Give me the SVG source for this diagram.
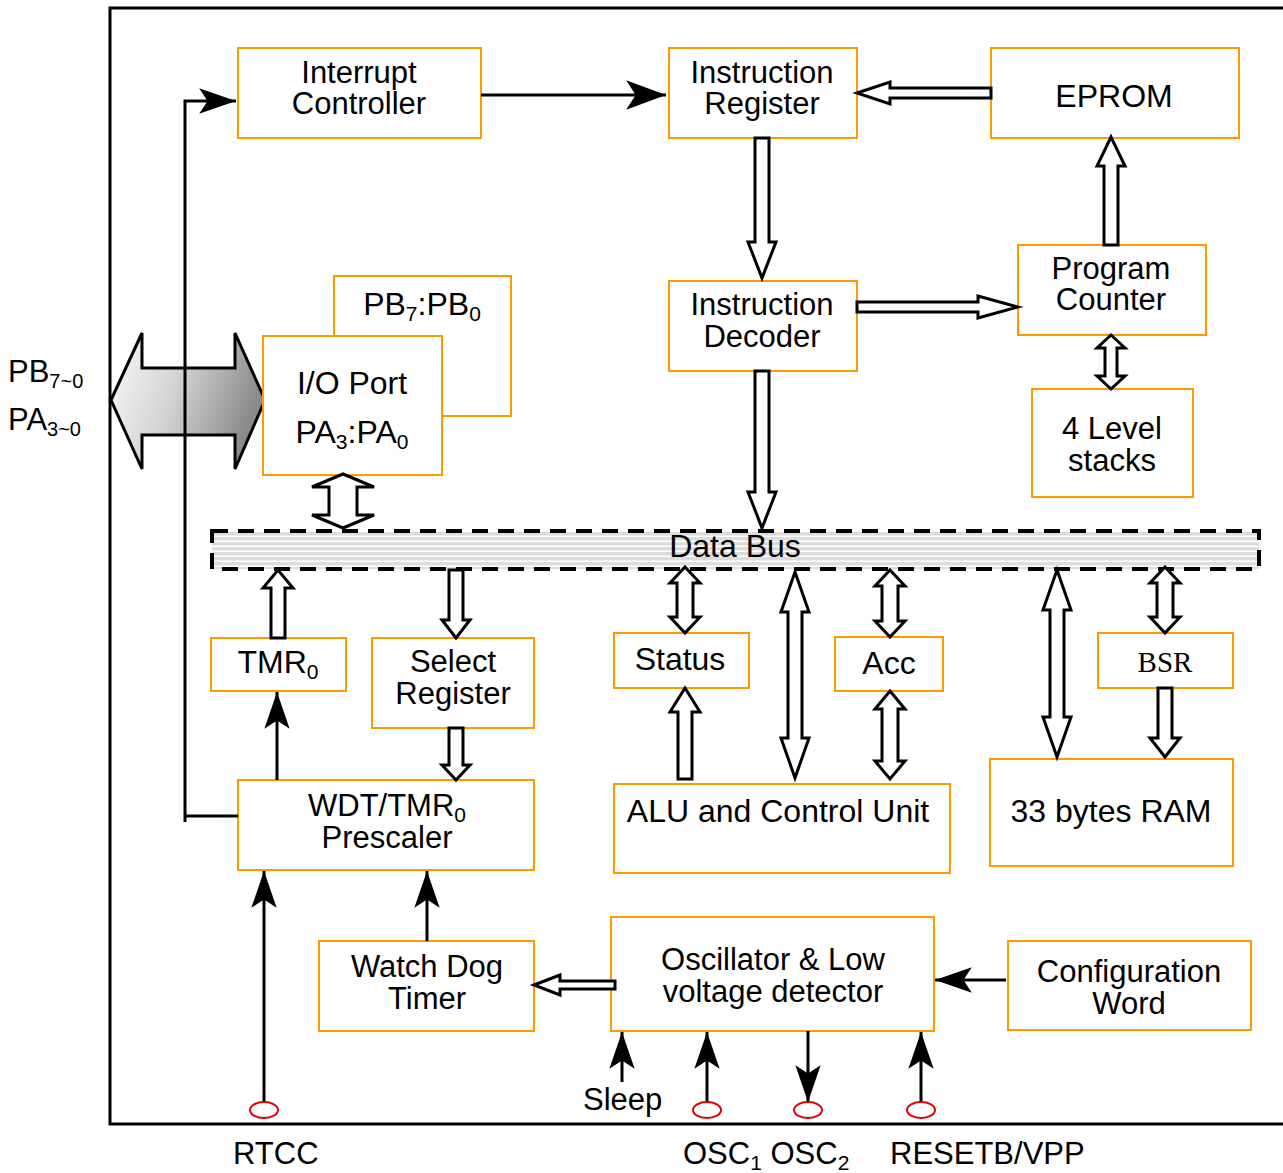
<svg xmlns="http://www.w3.org/2000/svg" width="1283" height="1173" viewBox="0 0 1283 1173">
<style>
.box{fill:#fff;stroke:#ff9900;stroke-width:2}
.t{font-family:"Liberation Sans",Arial,sans-serif;font-size:32px;fill:#000;text-anchor:middle}
.t2{font-family:"Liberation Sans",Arial,sans-serif;font-size:31px;fill:#000;text-anchor:middle}
.tl{font-family:"Liberation Sans",Arial,sans-serif;font-size:31px;fill:#000}
.h{fill:#fff;stroke:#000;stroke-width:3;stroke-linejoin:miter}
.ln{fill:none;stroke:#000;stroke-width:3}
.pin{fill:#fff;stroke:#e00000;stroke-width:2}
</style>
<defs>
<marker id="ah" markerUnits="userSpaceOnUse" markerWidth="40" markerHeight="30" viewBox="-36 -13 38 26" refX="0" refY="0" orient="auto">
<path d="M0,0 L-35,-12 L-27,0 L-35,12 Z" fill="#000"/>
</marker>
<marker id="ahl" markerUnits="userSpaceOnUse" markerWidth="44" markerHeight="34" viewBox="-40 -15 42 30" refX="0" refY="0" orient="auto">
<path d="M0,0 L-38,-14 L-29,0 L-38,14 Z" fill="#000"/>
</marker>
<linearGradient id="bg" x1="0" y1="0" x2="1" y2="0.3">
<stop offset="0" stop-color="#fafafa"/>
<stop offset="0.5" stop-color="#d2d2d2"/>
<stop offset="1" stop-color="#8a8a8a"/>
</linearGradient>
<pattern id="stripes" patternUnits="userSpaceOnUse" x="0" y="532" width="10" height="5">
<rect x="0" y="0" width="10" height="5" fill="#dcdcdc"/>
<rect x="0" y="3.5" width="10" height="1.5" fill="#fff"/>
</pattern>
</defs>

<polygon points="111,400 142,333 142,368 235,368 235,333 265,400 235,469 235,435 142,435 142,469" fill="url(#bg)" stroke="#000" stroke-width="3"/>

<path class="ln" d="M1290,8 H110 V1124 H1290" stroke-width="3"/>

<g id="interrupt-controller"><rect class="box" x="238" y="48" width="243" height="90"/><text class="t2" x="359" y="83">Interrupt</text><text class="t2" x="359" y="114">Controller</text></g>
<g id="instruction-register"><rect class="box" x="669" y="48" width="188" height="90"/><text class="t2" x="762" y="83">Instruction</text><text class="t2" x="762" y="114">Register</text></g>
<g id="eprom"><rect class="box" x="991" y="48" width="248" height="90"/><text class="t" x="1114" y="107">EPROM</text></g>
<g id="program-counter"><rect class="box" x="1018" y="245" width="188" height="90"/><text class="t2" x="1111" y="279">Program</text><text class="t2" x="1111" y="310">Counter</text></g>
<g id="stacks"><rect class="box" x="1032" y="389" width="161" height="108"/><text class="t2" x="1112" y="439">4 Level</text><text class="t2" x="1112" y="471">stacks</text></g>
<g id="instruction-decoder"><rect class="box" x="669" y="281" width="188" height="90"/><text class="t2" x="762" y="315">Instruction</text><text class="t2" x="762" y="347">Decoder</text></g>
<g id="port-b"><rect class="box" x="334" y="276" width="177" height="140"/><text class="t" x="422" y="315">PB<tspan font-size="21" dy="6">7</tspan><tspan dy="-6">:PB</tspan><tspan font-size="21" dy="6">0</tspan></text></g>
<g id="io-port"><rect class="box" x="263" y="336" width="179" height="139"/><text class="t" x="352" y="394">I/O Port</text><text class="t" x="352" y="443">PA<tspan font-size="21" dy="6">3</tspan><tspan dy="-6">:PA</tspan><tspan font-size="21" dy="6">0</tspan></text></g>
<g id="data-bus"><rect x="212" y="531" width="1047" height="38" fill="url(#stripes)" stroke="#000" stroke-width="4" stroke-dasharray="16 10"/><text class="t" x="735" y="557">Data Bus</text></g>
<g id="tmr0"><rect class="box" x="211" y="638" width="135" height="53"/><text class="t" x="278" y="673">TMR<tspan font-size="21" dy="6">0</tspan></text></g>
<g id="select-register"><rect class="box" x="372" y="638" width="162" height="90"/><text class="t2" x="453" y="672">Select</text><text class="t2" x="453" y="704">Register</text></g>
<g id="status"><rect class="box" x="614" y="633" width="135" height="55"/><text class="t" x="680" y="670">Status</text></g>
<g id="acc"><rect class="box" x="835" y="637" width="108" height="54"/><text class="t" x="889" y="674">Acc</text></g>
<g id="bsr"><rect class="box" x="1098" y="633" width="135" height="55"/><text x="1165" y="672" font-family="'Liberation Serif','Times New Roman',serif" font-size="29" text-anchor="middle">BSR</text></g>
<g id="alu"><rect class="box" x="614" y="784" width="336" height="89"/><text class="t" x="778" y="822">ALU and Control Unit</text></g>
<g id="ram"><rect class="box" x="990" y="759" width="243" height="107"/><text class="t" x="1111" y="822">33 bytes RAM</text></g>
<g id="prescaler"><rect class="box" x="238" y="780" width="296" height="90"/><text class="t2" x="387" y="816">WDT/TMR<tspan font-size="21" dy="6">0</tspan></text><text class="t2" x="387" y="848">Prescaler</text></g>
<g id="watchdog"><rect class="box" x="319" y="941" width="215" height="90"/><text class="t2" x="427" y="977">Watch Dog</text><text class="t2" x="427" y="1009">Timer</text></g>
<g id="oscillator"><rect class="box" x="611" y="917" width="323" height="114"/><text class="t2" x="773" y="970">Oscillator &amp; Low</text><text class="t2" x="773" y="1002">voltage detector</text></g>
<g id="config-word"><rect class="box" x="1008" y="941" width="243" height="89"/><text class="t2" x="1129" y="982">Configuration</text><text class="t2" x="1129" y="1014">Word</text></g>

<g id="connectors">
<line class="ln" x1="481" y1="95" x2="666" y2="95" marker-end="url(#ahl)"/>
<polyline class="ln" points="238,816 185,816"/>
<polyline class="ln" points="185,822 185,101 236,101" marker-end="url(#ah)"/>
<line class="ln" x1="277" y1="780" x2="277" y2="692" marker-end="url(#ah)"/>
<line class="ln" x1="427" y1="941" x2="427" y2="871" marker-end="url(#ah)"/>
<line class="ln" x1="264" y1="1102" x2="264" y2="871" marker-end="url(#ah)"/>
<line class="ln" x1="1006" y1="980" x2="935" y2="980" marker-end="url(#ah)"/>
<line class="ln" x1="622" y1="1082" x2="622" y2="1032" marker-end="url(#ah)"/>
<line class="ln" x1="707" y1="1102" x2="707" y2="1032" marker-end="url(#ah)"/>
<line class="ln" x1="808" y1="1031" x2="808" y2="1102" marker-end="url(#ah)"/>
<line class="ln" x1="921" y1="1102" x2="921" y2="1032" marker-end="url(#ah)"/>

<polygon class="h" points="755,138 769,138 769,242 776,242 762,278 748,242 755,242"/>
<polygon class="h" points="755,371 769,371 769,492 776,492 762,528 748,492 755,492"/>
<polygon class="h" points="857,93 890,82 890,88 991,88 991,98 890,98 890,104"/>
<polygon class="h" points="857,302 978,302 978,296 1018,307 978,318 978,312 857,312"/>
<polygon class="h" points="1104,245 1104,166 1097,166 1111,137 1125,166 1118,166 1118,245"/>
<polygon class="h" points="1111,335 1125,348 1117,348 1117,376 1125,376 1111,389 1097,376 1105,376 1105,348 1097,348"/>
<polygon class="h" points="343,474 374,487 357,487 357,515 374,515 343,528 312,515 329,515 329,487 312,487"/>
<polygon class="h" points="271,638 271,588 263,588 278,570 293,588 285,588 285,638"/>
<polygon class="h" points="449,570 463,570 463,620 470,620 456,638 442,620 449,620"/>
<polygon class="h" points="449,728 463,728 463,765 470,765 456,780 442,765 449,765"/>
<polygon class="h" points="685,567 700,583 693,583 693,617 700,617 685,633 670,617 677,617 677,583 670,583"/>
<polygon class="h" points="678,779 678,712 670,712 685,688 700,712 692,712 692,779"/>
<polygon class="h" points="795,572 809,612 802,612 802,738 809,738 795,778 781,738 788,738 788,612 781,612"/>
<polygon class="h" points="890,570 905,586 898,586 898,621 905,621 890,637 875,621 882,621 882,586 875,586"/>
<polygon class="h" points="890,691 905,709 898,709 898,761 905,761 890,779 875,761 882,761 882,709 875,709"/>
<polygon class="h" points="1057,570 1071,610 1064,610 1064,717 1071,717 1057,757 1043,717 1050,717 1050,610 1043,610"/>
<polygon class="h" points="1165,567 1180,583 1173,583 1173,617 1180,617 1165,633 1150,617 1157,617 1157,583 1150,583"/>
<polygon class="h" points="1158,688 1172,688 1172,738 1180,738 1165,757 1150,738 1158,738"/>
<polygon class="h" points="534,985 560,975 560,981 615,981 615,989 560,989 560,995" stroke-width="2.5"/>
</g>

<g id="pins">
<ellipse class="pin" cx="264" cy="1110" rx="14" ry="8"/>
<ellipse class="pin" cx="707" cy="1110" rx="14" ry="8"/>
<ellipse class="pin" cx="808" cy="1110" rx="14" ry="8"/>
<ellipse class="pin" cx="921" cy="1110" rx="14" ry="8"/>
</g>

<text class="tl" x="8" y="382">PB<tspan font-size="20" dy="6">7~0</tspan></text>
<text class="tl" x="8" y="430">PA<tspan font-size="20" dy="6">3~0</tspan></text>
<text class="tl" x="583" y="1110">Sleep</text>
<text class="tl" x="233" y="1164" font-size="32">RTCC</text>
<text class="tl" x="683" y="1164" font-size="32">OSC<tspan font-size="21" dy="6">1</tspan><tspan dy="-6"> OSC</tspan><tspan font-size="21" dy="6">2</tspan></text>
<text class="tl" x="890" y="1164" font-size="32">RESETB/VPP</text>
</svg>
